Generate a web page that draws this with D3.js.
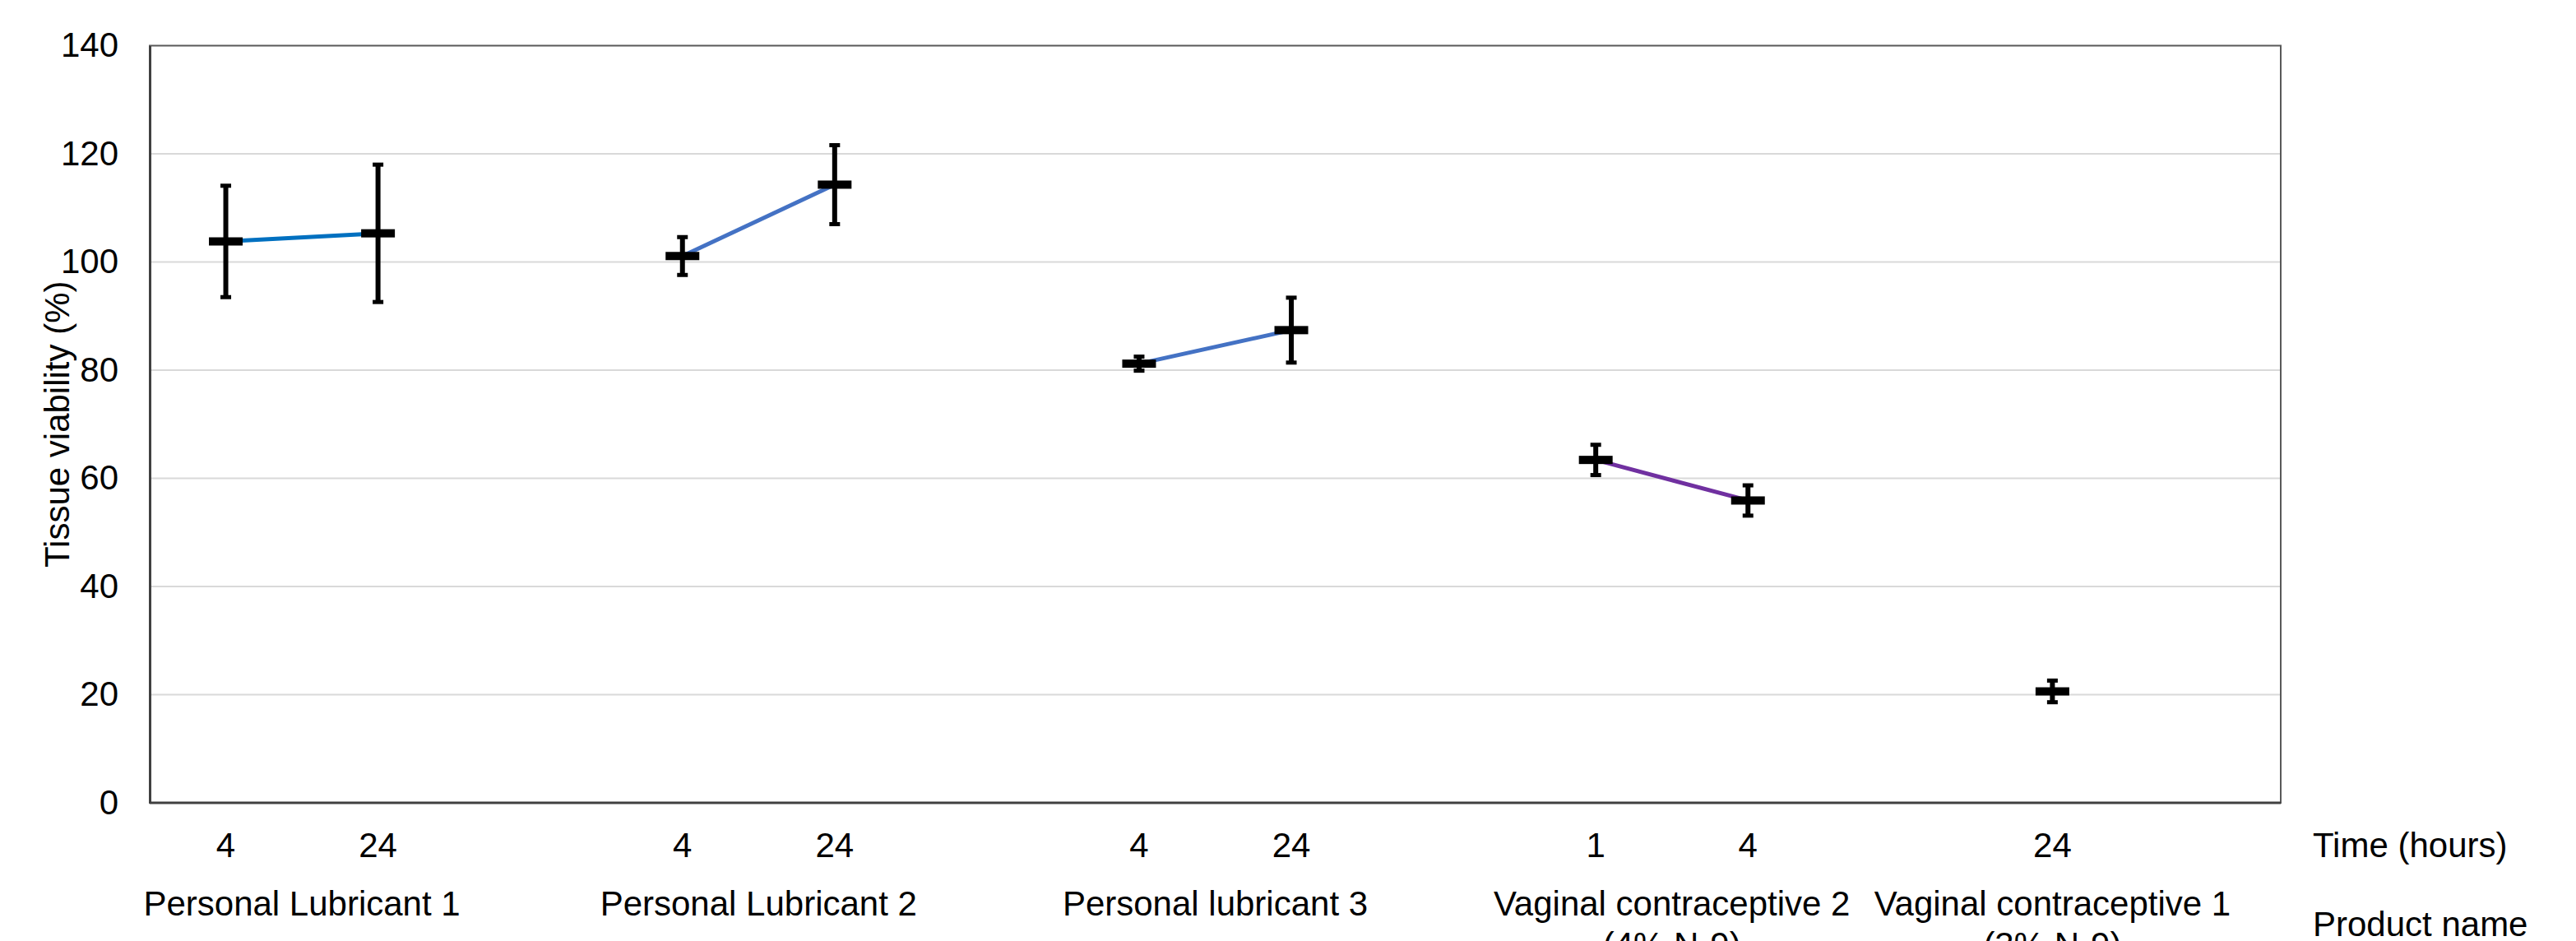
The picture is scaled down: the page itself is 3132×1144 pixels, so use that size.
<!DOCTYPE html>
<html>
<head>
<meta charset="utf-8">
<script src="https://cdn.jsdelivr.net/npm/d3@7"></script>
<style>
  html, body { margin: 0; padding: 0; background: #ffffff; }
  svg { display: block; }
  text { font-family: "Liberation Sans", Arial, sans-serif; fill: #000; }
</style>
</head>
<body>
<script>
// ---- data ----
const timeLabels = ["4", "24", "", "4", "24", "", "4", "24", "", "1", "4", "", "24", ""];
const viability  = [103.8, 105.3, null, 101.1, 114.3, null, 81.2, 87.4, null, 63.4, 55.9, null, 20.6, null];
const errorSD    = [10.3, 12.7, null, 3.5, 7.3, null, 1.3, 6.0, null, 2.8, 2.8, null, 2.0, null];
const products   = ["Personal Lubricant 1", "Personal Lubricant 2", "Personal lubricant 3",
                    "Vaginal contraceptive 2|(4% N-9)", "Vaginal contraceptive 1|(3% N-9)"];
const productSlots = [[0, 1], [3, 4], [6, 7], [9, 10], [12, 12]];
const lineColors = ["#0070C0", "#4472C4", "#4472C4", "#7030A0", null];
const yTicks = [0, 20, 40, 60, 80, 100, 120, 140];

// ---- layout ----
const W = 3132, H = 1144;
const m = { left: 182, right: 2773, top: 55.5, bottom: 976 };
const fs = 42;

const svg = d3.select("body").append("svg").attr("width", W).attr("height", H);

const x = d3.scaleBand().domain(d3.range(timeLabels.length)).range([m.left, m.right]).padding(0);
const cx = i => x(i) + x.bandwidth() / 2;
const y = d3.scaleLinear().domain([0, 140]).range([m.bottom, m.top]);

// gridlines
svg.append("g").selectAll("line").data(yTicks.filter(t => t > 0 && t < 140)).join("line")
  .attr("x1", m.left).attr("x2", m.right)
  .attr("y1", d => y(d)).attr("y2", d => y(d))
  .attr("stroke", "#d9d9d9").attr("stroke-width", 2);

// frame
svg.append("rect").attr("x", m.left).attr("y", m.top)
  .attr("width", m.right - m.left).attr("height", m.bottom - m.top)
  .attr("fill", "none").attr("stroke", "#595959").attr("stroke-width", 2);

// y axis (labels only)
const yAxis = d3.axisLeft(y).tickValues(yTicks).tickSize(0).tickPadding(38);
const gy = svg.append("g").attr("transform", `translate(${m.left},0)`).call(yAxis);
gy.select(".domain").attr("stroke", "#404040").attr("stroke-width", 3);
gy.selectAll("text").style("font-size", fs + "px").attr("fill", "#000")
  .style("font-family", "'Liberation Sans', Arial, sans-serif");

// bottom axis line
svg.append("line").attr("x1", m.left).attr("x2", m.right)
  .attr("y1", m.bottom).attr("y2", m.bottom)
  .attr("stroke", "#404040").attr("stroke-width", 3);

// time labels via axis
const xAxis = d3.axisBottom(x).tickFormat(i => timeLabels[i]).tickSize(0).tickPadding(0);
const gx = svg.append("g").attr("transform", `translate(0,${m.bottom})`).call(xAxis);
gx.select(".domain").remove();
gx.selectAll("text").attr("dy", null).attr("y", 1042 - m.bottom)
  .style("font-size", fs + "px").attr("fill", "#000")
  .style("font-family", "'Liberation Sans', Arial, sans-serif");

// connecting lines
productSlots.forEach((s, k) => {
  if (!lineColors[k] || s[0] === s[1]) return;
  const pts = d3.range(s[0], s[1] + 1).map(i => [cx(i), y(viability[i])]);
  svg.append("path").attr("d", d3.line()(pts))
    .attr("fill", "none").attr("stroke", lineColors[k]).attr("stroke-width", 5);
});

// error bars + markers
const idx = d3.range(viability.length).filter(i => viability[i] != null);
const eb = svg.append("g");
idx.forEach(i => {
  const xc = cx(i), v = viability[i], e = errorSD[i];
  eb.append("line").attr("x1", xc).attr("x2", xc)
    .attr("y1", y(v + e)).attr("y2", y(v - e))
    .attr("stroke", "#000").attr("stroke-width", 6);
  [v + e, v - e].forEach(t => {
    eb.append("line").attr("x1", xc - 6.5).attr("x2", xc + 6.5)
      .attr("y1", y(t)).attr("y2", y(t))
      .attr("stroke", "#000").attr("stroke-width", 5);
  });
  eb.append("rect").attr("x", xc - 20.5).attr("y", y(v) - 5)
    .attr("width", 41).attr("height", 10).attr("fill", "#000");
});

// product names
productSlots.forEach((s, k) => {
  const xc = (cx(s[0]) + cx(s[1])) / 2;
  const lines = products[k].split("|");
  const t = svg.append("text").attr("x", xc).attr("y", 1113)
    .attr("text-anchor", "middle").style("font-size", fs + "px");
  lines.forEach((ln, j) => {
    t.append("tspan").attr("x", xc).attr("dy", j === 0 ? 0 : 50).text(ln);
  });
});

// right-side labels
svg.append("text").attr("x", 2812).attr("y", 1042).style("font-size", fs + "px").text("Time (hours)");
svg.append("text").attr("x", 2812).attr("y", 1138).style("font-size", fs + "px").text("Product name");

// y title
svg.append("text")
  .attr("transform", `translate(84,${(m.top + m.bottom) / 2}) rotate(-90)`)
  .attr("text-anchor", "middle").style("font-size", fs + "px")
  .text("Tissue viability (%)");
</script>
</body>
</html>
